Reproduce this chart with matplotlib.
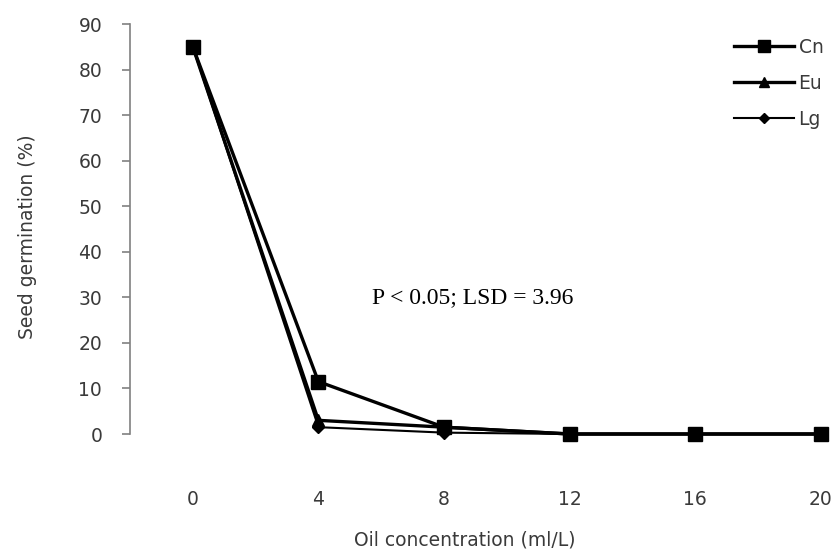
import matplotlib
matplotlib.use("Agg")
import matplotlib.pyplot as plt

concentrations = ["0", "4", "8", "12", "16", "20"]
cn = [85, 11.5, 1.5, 0, 0, 0]
eu = [85, 3.0, 1.5, 0, 0, 0]
lg = [85, 1.5, 0.3, 0, 0, 0]
y_ticks = [0, 10, 20, 30, 40, 50, 60, 70, 80, 90]
annotation = "P < 0.05; LSD = 3.96"

W, H = 836, 552
fig = plt.figure(figsize=(W / 100, H / 100), dpi=100)
left, right, top, bottom = 130, 836, 24, 434
aw, ah = right - left, bottom - top
ax = fig.add_axes([left / W, 1 - bottom / H, aw / W, ah / H])

x = list(range(len(concentrations)))
ax.plot(x, cn, color="black", lw=2.4, marker="s", ms=10, label="Cn", clip_on=False, zorder=3)
ax.plot(x, eu, color="black", lw=2.4, marker="^", ms=9, label="Eu", clip_on=False, zorder=4)
ax.plot(x, lg, color="black", lw=1.5, marker="D", ms=6, label="Lg", clip_on=False, zorder=5)

# x scale: category 0 at px 193, spacing ~125.6 px
ax.set_xlim(-0.5, -0.5 + aw / 125.6)
ax.set_ylim(0, 90)
ax.set_yticks(y_ticks)
ax.set_xticks(x)
ax.set_xticklabels(concentrations)

FAM = ["DejaVu Sans"]
FS = 13.5
TXT = "#3a3a3a"
for lab in ax.get_xticklabels() + ax.get_yticklabels():
    lab.set_fontfamily(FAM)
    lab.set_fontsize(FS)
    lab.set_color(TXT)

for s in ["top", "right", "bottom"]:
    ax.spines[s].set_visible(False)
ax.spines["left"].set_color("#808080")
ax.spines["left"].set_linewidth(1.2)
ax.tick_params(axis="y", direction="out", length=6, width=1.2, color="#808080", pad=14)
ax.tick_params(axis="x", length=0, pad=40)

ax.set_xlabel("Oil concentration (ml/L)", family=FAM, size=FS, color=TXT, va="center")
ax.xaxis.set_label_coords((465 - left) / aw, (bottom - 540) / ah)
ax.set_ylabel("Seed germination (%)", family=FAM, size=FS, color=TXT, va="center")
ax.yaxis.set_label_coords((28 - left) / aw, (bottom - 237) / ah)

ax.text(1.425, 30, annotation, family=["Liberation Serif"], size=17, color="black",
        ha="left", va="center")

leg = ax.legend(loc="upper left",
                bbox_to_anchor=((717 - left) / aw, 1.0 + (top - 21) / ah),
                frameon=False, handlelength=3.2, labelspacing=0.9, handletextpad=0.25,
                prop={"family": FAM, "size": FS}, markerscale=0.8)
for t in leg.get_texts():
    t.set_color(TXT)

fig.savefig("out.png", dpi=100, facecolor="white")
